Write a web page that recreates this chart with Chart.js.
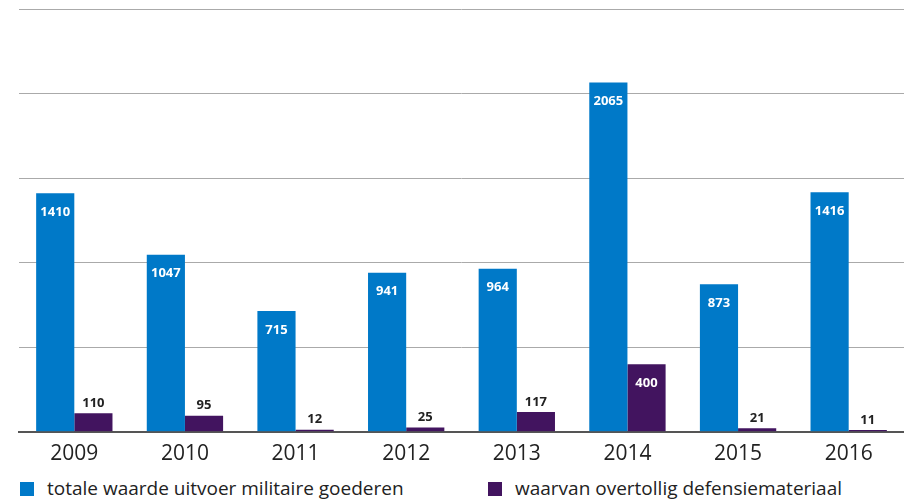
<!DOCTYPE html>
<html>
<head>
<meta charset="utf-8">
<script src="https://cdn.jsdelivr.net/npm/chart.js@4"></script>
<style>
  body { margin: 0; background: #fff; font-family: "Open Sans", sans-serif; }
  .wrap { position: relative; width: 904px; height: 470px; }
  .legend { position: absolute; top: 477px; left: 0; width: 904px; height: 22px; font-size: 19px; line-height: 22px; color: #222; }
  .legend span { position: absolute; top: 0; white-space: nowrap; }
  .legend i { display: inline-block; width: 14px; height: 14px; vertical-align: -1px; margin-right: 13px; }
</style>
</head>
<body>
<div class="wrap"><canvas id="exportChart"></canvas></div>
<div class="legend">
  <span style="left:20px"><i style="background:#0079C8"></i>totale waarde uitvoer militaire goederen</span>
  <span style="left:488px"><i style="background:#42145F"></i>waarvan overtollig defensiemateriaal</span>
</div>
<script>
// gegevens uit de grafiek
const jaren = ["2009", "2010", "2011", "2012", "2013", "2014", "2015", "2016"];
const totaleWaarde = [1410, 1047, 715, 941, 964, 2065, 873, 1416];
const overtollig = [110, 95, 12, 25, 117, 400, 21, 11];

// waarden op de staven tekenen
const waardeLabels = {
    id: "waardeLabels",
    afterDatasetsDraw(chart) {
        const ctx = chart.ctx;
        ctx.save();
        ctx.font = "bold 13px 'Open Sans', sans-serif";
        ctx.textAlign = "center";
        ctx.textBaseline = "middle";
        chart.data.datasets.forEach((ds, i) => {
            chart.getDatasetMeta(i).data.forEach((bar, j) => {
                const v = ds.data[j];
                const hoogte = bar.base - bar.y;
                if (hoogte > 30) {
                    ctx.fillStyle = "#fff";
                    ctx.fillText(v, bar.x, bar.y + 19);
                } else {
                    ctx.fillStyle = "#222";
                    ctx.fillText(v, bar.x, bar.y - 10);
                }
            });
        });
        ctx.restore();
    }
};

new Chart(document.getElementById("exportChart"), {
    type: "bar",
    data: {
        labels: jaren,
        datasets: [
            { label: "totale waarde uitvoer militaire goederen", data: totaleWaarde, backgroundColor: "#0079C8" },
            { label: "waarvan overtollig defensiemateriaal", data: overtollig, backgroundColor: "#42145F" }
        ]
    },
    options: {
        responsive: true,
        maintainAspectRatio: false,
        animation: false,
        layout: { padding: { top: 9, left: 19, right: 0, bottom: 1 } },
        datasets: { bar: { categoryPercentage: 0.69, barPercentage: 1 } },
        plugins: { legend: { display: false }, tooltip: { enabled: false } },
        scales: {
            x: {
                grid: { display: false },
                border: { color: "#555", width: 2 },
                ticks: { color: "#222", font: { family: "'Open Sans', sans-serif", size: 21 }, padding: 2 }
            },
            y: {
                min: 0,
                max: 2500,
                ticks: { display: false, stepSize: 500 },
                border: { display: false },
                grid: { color: "#aaa", lineWidth: 1, drawTicks: false }
            }
        }
    },
    plugins: [waardeLabels]
});
</script>
</body>
</html>
